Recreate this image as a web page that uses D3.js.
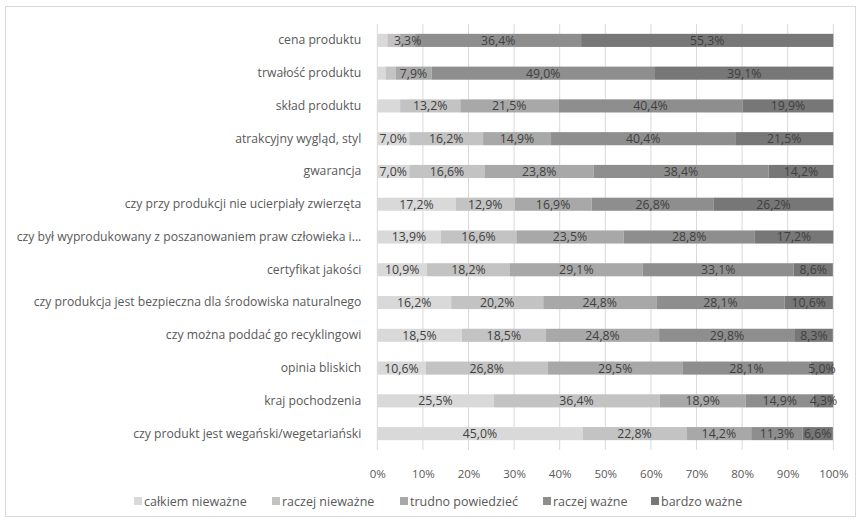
<!DOCTYPE html>
<html><head><meta charset="utf-8">
<script src="https://cdn.jsdelivr.net/npm/d3@7"></script>
<style>body{margin:0;background:#fff;} svg{display:block;}</style>
</head><body>
<svg id="c" width="861" height="521"></svg>
<script>
const categories = [
  "cena produktu",
  "trwałość produktu",
  "skład produktu",
  "atrakcyjny wygląd, styl",
  "gwarancja",
  "czy przy produkcji nie ucierpiały zwierzęta",
  "czy był wyprodukowany z poszanowaniem praw człowieka i...",
  "certyfikat jakości",
  "czy produkcja jest bezpieczna dla środowiska naturalnego",
  "czy można poddać go recyklingowi",
  "opinia bliskich",
  "kraj pochodzenia",
  "czy produkt jest wegański/wegetariański"
];
const seriesNames = ["całkiem nieważne","raczej nieważne","trudno powiedzieć","raczej ważne","bardzo ważne"];
const calkiemNiewazne = [2.2, 1.8, 5.0, 7.0, 7.0, 17.2, 13.9, 10.9, 16.2, 18.5, 10.6, 25.5, 45.0];
const raczejNiewazne  = [2.8, 2.2, 13.2, 16.2, 16.6, 12.9, 16.6, 18.2, 20.2, 18.5, 26.8, 36.4, 22.8];
const trudnoPowiedziec= [3.3, 7.9, 21.5, 14.9, 23.8, 16.9, 23.5, 29.1, 24.8, 24.8, 29.5, 18.9, 14.2];
const raczejWazne     = [36.4, 49.0, 40.4, 40.4, 38.4, 26.8, 28.8, 33.1, 28.1, 29.8, 28.1, 14.9, 11.3];
const bardzoWazne     = [55.3, 39.1, 19.9, 21.5, 14.2, 26.2, 17.2, 8.6, 10.6, 8.3, 5.0, 4.3, 6.6];
// segments whose label is not shown in the original (row, series)
const labelHidden = [[0,0],[0,1],[1,0],[1,1],[2,0]];
const tickValues = [0,10,20,30,40,50,60,70,80,90,100];

const colors = ["#d9d9d9","#c3c3c3","#a8a8a8","#8e8e8e","#777777"];
const series = [calkiemNiewazne, raczejNiewazne, trudnoPowiedziec, raczejWazne, bardzoWazne];

const svg = d3.select("#c");
const font = "'Open Sans', 'DejaVu Sans', sans-serif";
svg.append("rect").attr("x",5.5).attr("y",6.5).attr("width",850).attr("height",510)
  .attr("fill","#fff").attr("stroke","#d9d9d9").attr("stroke-width",1);

const x0 = 377.3, x1 = 833.3, y0 = 24, y1 = 450;
const x = d3.scaleLinear().domain([0,100]).range([x0,x1]);
const y = d3.scaleBand().domain(categories).range([y0,y1]).paddingInner(0.6).paddingOuter(0.3);

svg.append("g").selectAll("line").data(tickValues).join("line")
  .attr("x1",d=>x(d)).attr("x2",d=>x(d)).attr("y1",y0).attr("y2",y1)
  .attr("stroke","#d9d9d9").attr("stroke-width",1);

const rows = categories.map((c,i)=>{
  let acc = 0;
  return series.map((s,j)=>{ const st = acc; acc += s[i]; return {cat:c,i,j,v:s[i],start:st,end:acc}; });
});
const segs = rows.flat();

const g = svg.append("g");
g.selectAll("rect").data(segs).join("rect")
  .attr("x",d=>x(d.start)).attr("width",d=>x(d.end)-x(d.start))
  .attr("y",d=>y(d.cat)).attr("height",y.bandwidth())
  .attr("fill",d=>colors[d.j]);

const isHidden = d => labelHidden.some(h=>h[0]===d.i && h[1]===d.j);
g.selectAll("text").data(segs.filter(d=>!isHidden(d))).join("text")
  .attr("x",d=>(x(d.start)+x(d.end))/2).attr("y",d=>y(d.cat)+y.bandwidth()/2)
  .attr("dy","0.36em").attr("text-anchor","middle")
  .attr("font-family",font).attr("font-size","12.3px").attr("fill","#404040")
  .text(d=>d.v.toFixed(1).replace(".",",")+"%");

const yAxis = d3.axisLeft(y).tickSize(0).tickPadding(0);
const ya = svg.append("g").attr("transform",`translate(${x0-16},0)`).call(yAxis);
ya.select(".domain").remove();
ya.selectAll("text").attr("font-family",font).attr("font-size","12.2px").attr("fill","#595959");

const xAxis = d3.axisBottom(x).tickValues(tickValues).tickSize(0).tickPadding(14).tickFormat(d=>d+"%");
const xa = svg.append("g").attr("transform",`translate(0,${y1+6})`).call(xAxis);
xa.select(".domain").remove();
xa.selectAll("text").attr("font-family",font).attr("font-size","11.5px").attr("fill","#595959");

const legendX = [134, 272, 400, 543, 651];
const lg = svg.append("g").selectAll("g").data(seriesNames).join("g")
  .attr("transform",(d,i)=>`translate(${legendX[i]},${501})`);
lg.append("rect").attr("x",0).attr("y",-4).attr("width",8).attr("height",8).attr("fill",(d,i)=>colors[i]);
lg.append("text").attr("x",10).attr("y",0).attr("dy","0.36em")
  .attr("font-family",font).attr("font-size","12.5px").attr("fill","#595959").text(d=>d);
</script>
</body></html>
